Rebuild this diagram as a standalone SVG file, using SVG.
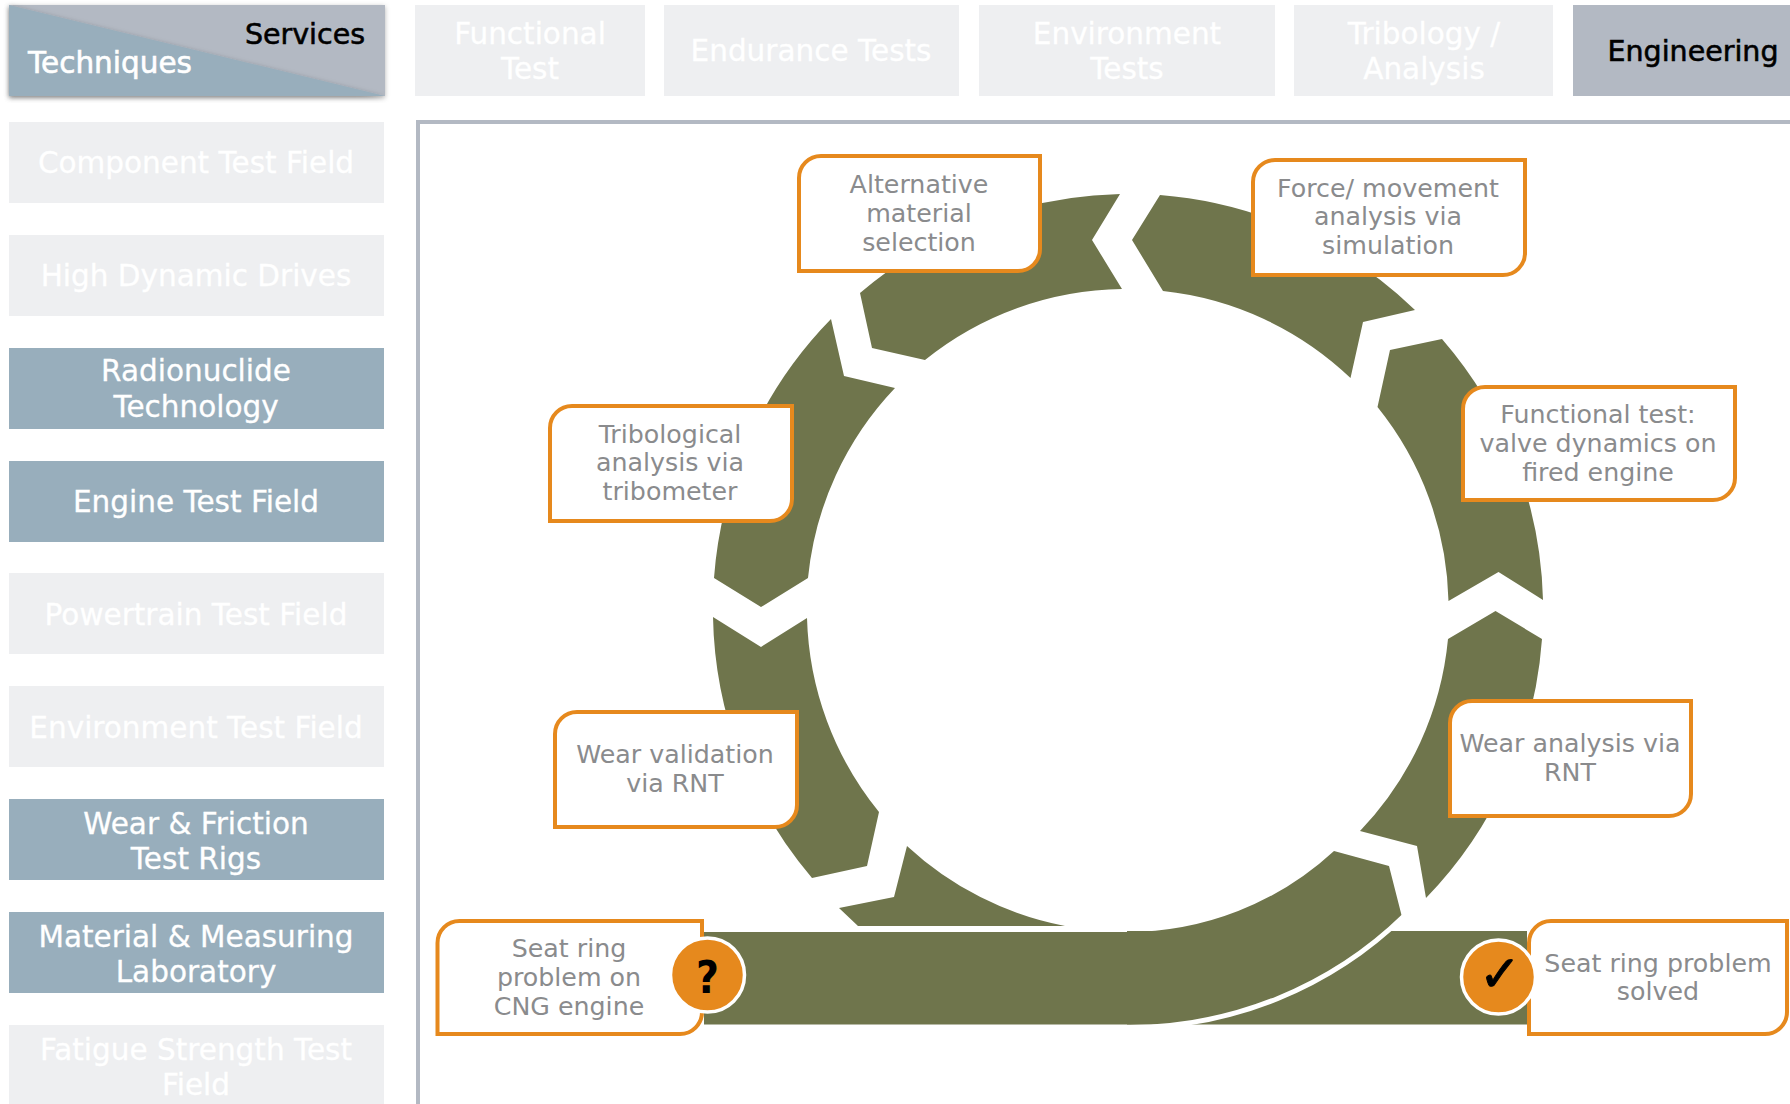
<svg xmlns="http://www.w3.org/2000/svg" width="1790" height="1104" viewBox="0 0 1790 1104">
<defs>
<style>
text{font-family:"DejaVu Sans",sans-serif;text-anchor:middle}
.pale{fill:#EEEFF1}.blue{fill:#98AEBC}.grey{fill:#B3B9C3}
.lbl{font-size:29.5px;fill:#fff;stroke:#fff;stroke-width:.3;transform:translateY(1px)}
.dark{font-size:28.5px;fill:#000;stroke:#000;stroke-width:.6;transform:translateY(1px)}
.seg{fill:#6F754C}
.box{fill:#fff;stroke:#E6891D;stroke-width:4}
.cap{font-size:25.3px;fill:#8A8B8D}
.dot{fill:#E6891D;stroke:#fff;stroke-width:3.5}
</style>
<filter id="sh" x="-5%" y="-10%" width="110%" height="125%"><feDropShadow dx="0" dy="1.5" stdDeviation="2.5" flood-color="#000" flood-opacity=".3"/></filter>
</defs>
<rect width="1790" height="1104" fill="#fff"/>
<g id="corner">
<rect class="grey" x="9" y="5" width="376" height="91" filter="url(#sh)"/>
<path class="blue" d="M9 5L385 96H9Z" filter="url(#sh)"/>
<text class="dark" x="305" y="43">Services</text>
<text class="lbl" x="110" y="72" style="stroke-width:.6">Techniques</text>
</g>
<g id="col-functional"><rect class="pale" x="415" y="5" width="230" height="91"/><text class="lbl" x="530" y="43">Functional</text><text class="lbl" x="530" y="78">Test</text></g>
<g id="col-endurance"><rect class="pale" x="664" y="5" width="295" height="91"/><text class="lbl" x="811" y="60">Endurance Tests</text></g>
<g id="col-environment"><rect class="pale" x="979" y="5" width="296" height="91"/><text class="lbl" x="1127" y="43">Environment</text><text class="lbl" x="1127" y="78">Tests</text></g>
<g id="col-tribology"><rect class="pale" x="1294" y="5" width="259" height="91"/><text class="lbl" x="1424" y="43">Tribology /</text><text class="lbl" x="1424" y="78">Analysis</text></g>
<g id="col-engineering"><rect class="grey" x="1573" y="5" width="217" height="91"/><text class="dark" x="1693" y="60">Engineering</text></g>
<g id="row-component"><rect class="pale" x="9" y="122" width="375" height="81"/><text class="lbl" x="196" y="172">Component Test Field</text></g>
<g id="row-drives"><rect class="pale" x="9" y="235" width="375" height="81"/><text class="lbl" x="196" y="285">High Dynamic Drives</text></g>
<g id="row-radionuclide"><rect class="blue" x="9" y="348" width="375" height="81"/><text class="lbl" x="196" y="380">Radionuclide</text><text class="lbl" x="196" y="416">Technology</text></g>
<g id="row-engine"><rect class="blue" x="9" y="461" width="375" height="81"/><text class="lbl" x="196" y="511">Engine Test Field</text></g>
<g id="row-powertrain"><rect class="pale" x="9" y="573" width="375" height="81"/><text class="lbl" x="196" y="624">Powertrain Test Field</text></g>
<g id="row-environment"><rect class="pale" x="9" y="686" width="375" height="81"/><text class="lbl" x="196" y="737">Environment Test Field</text></g>
<g id="row-wear"><rect class="blue" x="9" y="799" width="375" height="81"/><text class="lbl" x="196" y="833">Wear &amp; Friction</text><text class="lbl" x="196" y="868">Test Rigs</text></g>
<g id="row-material"><rect class="blue" x="9" y="912" width="375" height="81"/><text class="lbl" x="196" y="946">Material &amp; Measuring</text><text class="lbl" x="196" y="981">Laboratory</text></g>
<g id="row-fatigue"><rect class="pale" x="9" y="1025" width="375" height="79"/><text class="lbl" x="196" y="1059">Fatigue Strength Test</text><text class="lbl" x="196" y="1094">Field</text></g>
<path id="frame" d="M418 1104V122H1790" fill="none" stroke="#B3B9C3" stroke-width="4"/>
<g id="connectors">
<rect class="seg" x="1127" y="931" width="400" height="93.500"/>
<path class="seg" d="M1120 194L1092 240L1122 289A321 321 0 0 0 925 360L872 348L860 293A414 414 0 0 1 1120 194Z"/>
<path class="seg" d="M1160 195L1132 240L1163 291A321 321 0 0 1 1350.500 378L1363 322L1415 310A414 414 0 0 0 1160 195Z"/>
<path class="seg" d="M1442 339L1390 350L1377.500 407A321 321 0 0 1 1448.500 601L1498.500 572L1543 600A414 414 0 0 0 1442 339Z"/>
<path class="seg" d="M1542 639L1495.500 611L1448 639A321 321 0 0 1 1360 831L1417 846L1426 898A414 414 0 0 0 1542 639Z"/>
<path class="seg" d="M831 319L844 376L895 388A321 321 0 0 0 808 578L761 607L714 578A414 414 0 0 1 831 319Z"/>
<path class="seg" d="M713 617L761 647L807 618A321 321 0 0 0 879 812L867 866L812 878A414 414 0 0 1 713 617Z"/>
<path class="seg" d="M839 908L894 897L907 846A321 321 0 0 0 1065 926H858Z"/>
<path class="seg" d="M704 932H1127A305 305 0 0 0 1334 851L1389 866L1402 917A394 394 0 0 1 1130 1024.500H704Z"/>
<path d="M1404 916A394 394 0 0 1 1130 1027.500" fill="none" stroke="#fff" stroke-width="5"/>
</g>
<g id="node-alternative"><path class="box" d="M799 178A22 22 0 0 1 821 156H1040V249A22 22 0 0 1 1018 271H799Z"/><text class="cap" x="919" y="193">Alternative</text><text class="cap" x="919" y="222">material</text><text class="cap" x="919" y="251">selection</text></g>
<g id="node-force"><path class="box" d="M1253 182A22 22 0 0 1 1275 160H1525V253A22 22 0 0 1 1503 275H1253Z"/><text class="cap" x="1388" y="197">Force/ movement</text><text class="cap" x="1388" y="225">analysis via</text><text class="cap" x="1388" y="254">simulation</text></g>
<g id="node-functional"><path class="box" d="M1463 409A22 22 0 0 1 1485 387H1735V478A22 22 0 0 1 1713 500H1463Z"/><text class="cap" x="1598" y="423">Functional test:</text><text class="cap" x="1598" y="452">valve dynamics on</text><text class="cap" x="1598" y="481">fired engine</text></g>
<g id="node-tribological"><path class="box" d="M550 428A22 22 0 0 1 572 406H792V499A22 22 0 0 1 770 521H550Z"/><text class="cap" x="670" y="443">Tribological</text><text class="cap" x="670" y="471">analysis via</text><text class="cap" x="670" y="500">tribometer</text></g>
<g id="node-wear-validation"><path class="box" d="M555 734A22 22 0 0 1 577 712H797V805A22 22 0 0 1 775 827H555Z"/><text class="cap" x="675" y="763">Wear validation</text><text class="cap" x="675" y="792">via RNT</text></g>
<g id="node-wear-analysis"><path class="box" d="M1450 723A22 22 0 0 1 1472 701H1691V794A22 22 0 0 1 1669 816H1450Z"/><text class="cap" x="1570" y="752">Wear analysis via</text><text class="cap" x="1570" y="781">RNT</text></g>
<g id="node-problem"><path class="box" d="M437.500 943A22 22 0 0 1 459.500 921H702V1012A22 22 0 0 1 680 1034H437.500Z"/><text class="cap" x="569" y="957">Seat ring</text><text class="cap" x="569" y="986">problem on</text><text class="cap" x="569" y="1015">CNG engine</text><circle class="dot" cx="707.500" cy="975" r="37"/><text x="707.500" y="993" font-size="44" font-weight="700" fill="#000" style="font-family:'DejaVu Sans Condensed','DejaVu Sans',sans-serif">?</text></g>
<g id="node-solved"><path class="box" d="M1529 943A22 22 0 0 1 1551 921H1787V1012A22 22 0 0 1 1765 1034H1529Z"/><text class="cap" x="1658" y="972">Seat ring problem</text><text class="cap" x="1658" y="1000">solved</text><circle class="dot" cx="1498.500" cy="977" r="37"/><text x="1500" y="991" font-size="50" fill="#000" stroke="#000" stroke-width="1">✓</text></g>
</svg>
